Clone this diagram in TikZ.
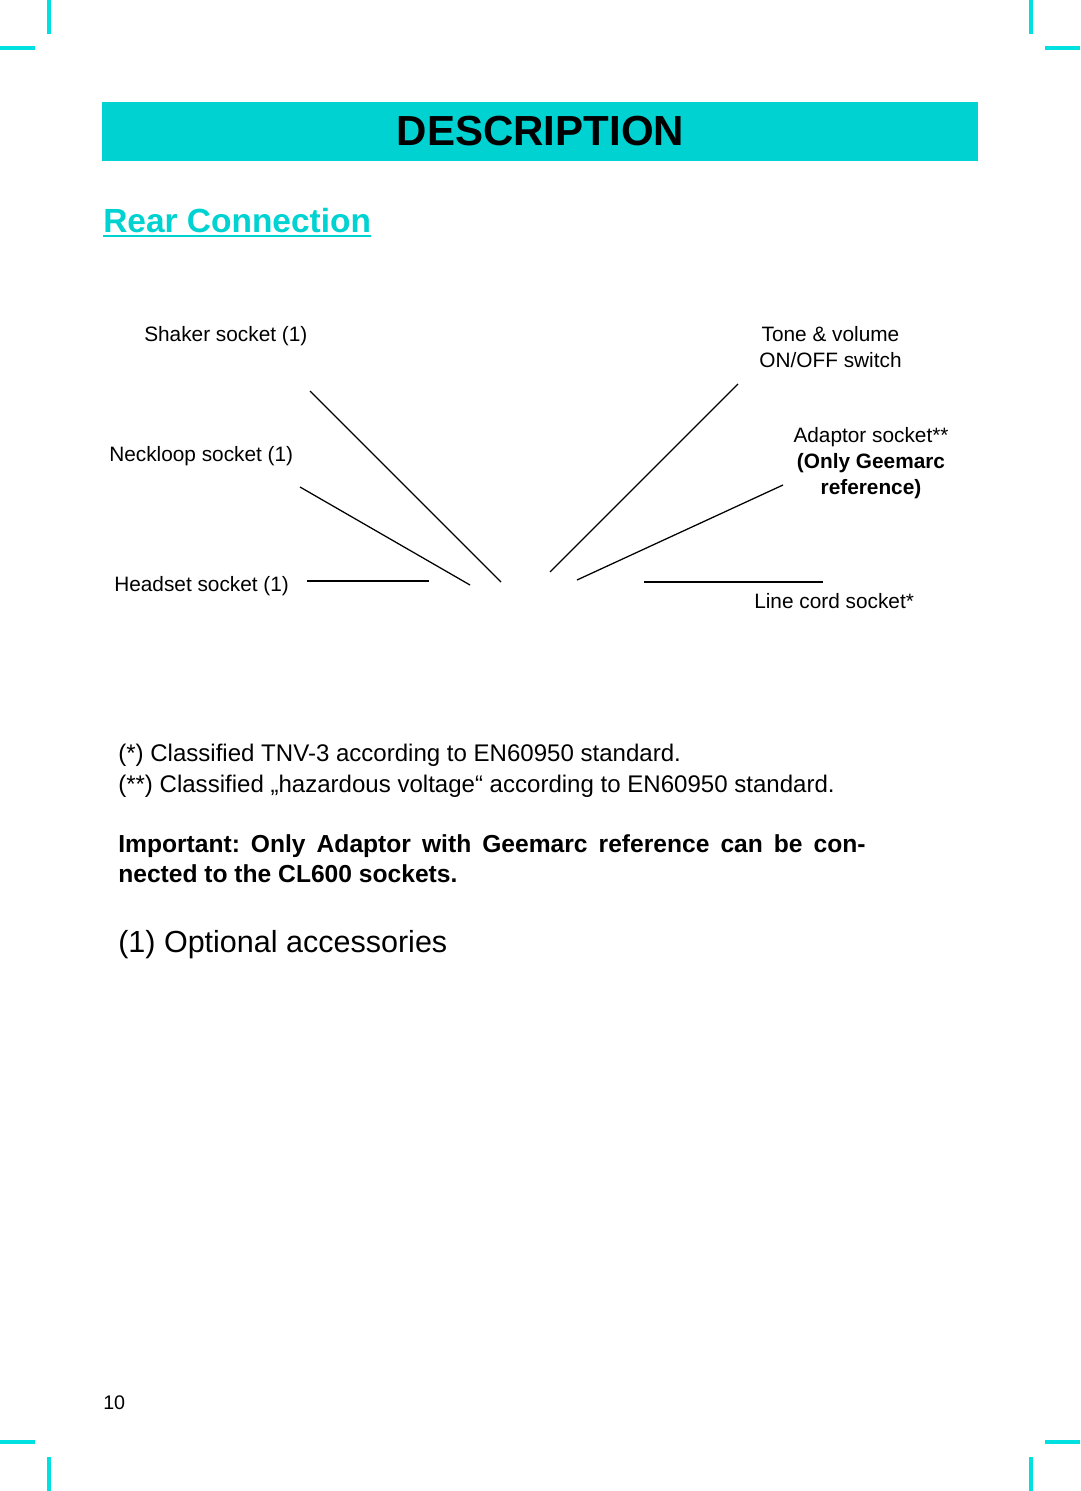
\documentclass[tikz,border=0pt]{standalone}
\usepackage{fontspec}
\setmainfont{Liberation Sans}
\usepackage{tikz}
\usetikzlibrary{positioning, calc}
\definecolor{barcyan}{HTML}{00D2D2}
\definecolor{markcyan}{HTML}{00E0E0}
\frenchspacing

\begin{document}
\begin{tikzpicture}[
    x=0.025cm, y=-0.025cm,
    label/.style={inner sep=0pt, font=\fontsize{14.8}{18.4}\selectfont},
    bodytext/.style={inner sep=0pt, font=\fontsize{17.1}{22}\selectfont},
    leader/.style={line width=0.9pt, black},
    crop/.style={line width=2.2pt, markcyan}
]
\useasboundingbox (0,0) rectangle (1080,1491);

% Crop marks
\draw[crop] (49,0) -- (49,34);
\draw[crop] (0,48) -- (35,48);
\draw[crop] (1031,0) -- (1031,34);
\draw[crop] (1045,48) -- (1080,48);
\draw[crop] (0,1442) -- (35,1442);
\draw[crop] (49,1457) -- (49,1491);
\draw[crop] (1045,1442) -- (1080,1442);
\draw[crop] (1031,1457) -- (1031,1491);

% Header
\fill[barcyan] (102,102) rectangle (978,161);
\node[inner sep=0pt, font=\fontsize{29.9}{34}\selectfont\bfseries, anchor=base] (title) at (540.5,146) {DESCRIPTION};
\node[inner sep=0pt, font=\fontsize{23.8}{28}\selectfont\bfseries, text=barcyan, anchor=base west] (rear) at (103,232) {Rear Connection};
\draw[barcyan, line width=1.5pt] ([yshift=-3pt]rear.base west) -- ([yshift=-3pt]rear.base east);

% Labels
\node[label, anchor=base west] (shaker) at (144,341) {Shaker socket (1)};
\node[label, anchor=base west] (neckloop) at (109,461) {Neckloop socket (1)};
\node[label, anchor=base west] (headset) at (114,591) {Headset socket (1)};
\node[label, anchor=base, align=center] (tone) at (830.5,367) {Tone \& volume\\ON/OFF switch};
\node[label, anchor=base, align=center] (adaptor) at (871,494) {Adaptor socket**\\\textbf{(Only Geemarc}\\\textbf{reference)}};
\node[label, anchor=base west] (linecord) at (754,608) {Line cord socket*};

% Leader lines
\coordinate (shakerA) at (310,391);
\coordinate (shakerB) at (501,582);
\coordinate (neckA) at (300,487);
\coordinate (neckB) at (470,585);
\coordinate (headA) at (307,581);
\coordinate (headB) at (429,581);
\coordinate (toneA) at (738,384);
\coordinate (toneB) at (550,572);
\coordinate (adaptA) at (783,485);
\coordinate (adaptB) at (577,580);
\coordinate (cordA) at (644,582);
\coordinate (cordB) at (823,582);
\draw[leader] (shakerA) -- (shakerB);
\draw[leader] (neckA) -- (neckB);
\draw[leader] (headA) -- (headB);
\draw[leader] (toneA) -- (toneB);
\draw[leader] (adaptA) -- (adaptB);
\draw[leader] (cordA) -- (cordB);

% Notes
\node[bodytext, anchor=base west, align=left] (notes) at (118,792) {(*) Classified TNV-3 according to EN60950 standard.\\(**) Classified „hazardous voltage“ according to EN60950 standard.};
\node[bodytext, anchor=base west, text width=531.5pt, align=justify, font=\fontsize{17.5}{22}\selectfont\bfseries] (important) at (118,852) {Important: Only Adaptor with Geemarc reference can be con-\linebreak nected to the CL600 sockets.};
\node[inner sep=0pt, anchor=base west, font=\fontsize{21.7}{26}\selectfont] (optional) at (118,952) {(1) Optional accessories};
\node[inner sep=0pt, anchor=base west, font=\fontsize{14}{17}\selectfont] (pagenum) at (103,1409) {10};

\end{tikzpicture}
\end{document}
